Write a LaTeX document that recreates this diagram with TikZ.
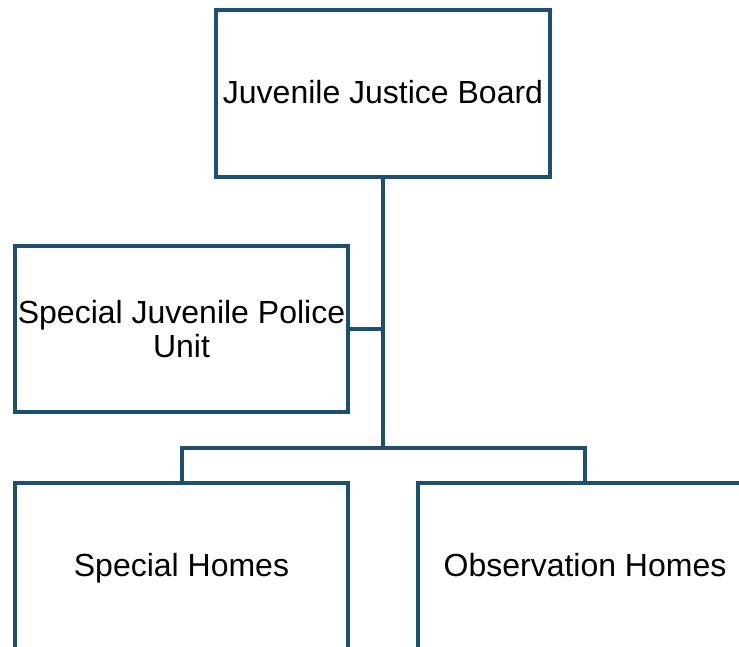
\documentclass[tikz,border=0pt]{standalone}
\usepackage{fontspec}
\setmainfont{Liberation Sans}
\definecolor{orgblue}{RGB}{31,79,112}
\begin{document}
\begin{tikzpicture}[x=1pt,y=-1pt,
  orgbox/.style={draw=orgblue, line width=4pt, fill=white, rectangle,
    minimum width=334pt, minimum height=167pt, inner sep=1pt,
    text height=25pt, text depth=4pt,
    align=center, font=\fontsize{32}{33.5}\selectfont},
  link/.style={draw=orgblue, line width=4pt}]
  \useasboundingbox (0,0) rectangle (739,647);
  \clip (0,0) rectangle (739,647);
  \fill[white] (0,0) rectangle (739,647);
  % boxes of the chart
  \node[orgbox] (jjb) at (383,93.5) {Juvenile Justice Board};
  \node[orgbox, minimum width=333pt, minimum height=166pt, text height=, text depth=] (sjpu) at (181.5,329) {Special Juvenile Police\\Unit};
  \node[orgbox, minimum width=333pt, minimum height=166pt] (sh) at (181.5,566) {Special Homes};
  \node[orgbox] (oh) at (585,566) {Observation Homes};
  % trunk and branches
  \coordinate (hub) at (382.5,448);
  \draw[link] (jjb.south -| hub) -- (hub);
  \draw[link] (sjpu.east) -- (sjpu.east -| hub);
  \draw[link] (sh.north) |- (hub) -| (oh.north);
\end{tikzpicture}
\end{document}
